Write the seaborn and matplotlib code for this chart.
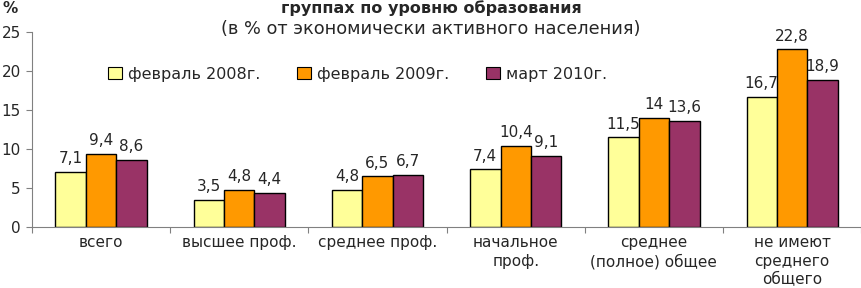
import matplotlib
matplotlib.use("Agg")
import matplotlib.pyplot as plt
import seaborn as sns
import pandas as pd
from matplotlib.patches import Patch

# данные
categories = ['всего', 'высшее проф.', 'среднее проф.', 'начальное\nпроф.',
              'среднее\n(полное) общее', 'не имеют\nсреднего\nобщего']
series = ['февраль 2008г.', 'февраль 2009г.', 'март 2010г.']
feb_2008 = [7.1, 3.5, 4.8, 7.4, 11.5, 16.7]
feb_2009 = [9.4, 4.8, 6.5, 10.4, 14, 22.8]
mar_2010 = [8.6, 4.4, 6.7, 9.1, 13.6, 18.9]
colors = ['#FFFF99', '#FF9900', '#993366']

rows = []
for s, vals in zip(series, [feb_2008, feb_2009, mar_2010]):
    for c, v in zip(categories, vals):
        rows.append({'cat': c, 'series': s, 'val': v})
df = pd.DataFrame(rows)

sns.set_style('white')
plt.rcParams['font.family'] = ['DejaVu Sans']

fig = plt.figure(figsize=(8.62, 2.88), dpi=100)
ax = fig.add_axes([0.0371, 0.212, 0.962, 0.677])

sns.barplot(data=df, x='cat', y='val', hue='series', order=categories,
            hue_order=series, palette=colors, width=0.66, gap=0,
            edgecolor='black', linewidth=1, saturation=1, ax=ax, legend=False)

# подписи значений
for cont in ax.containers:
    ax.bar_label(cont, labels=[f'{v:g}'.replace('.', ',') for v in cont.datavalues],
                 padding=4, fontsize=11)

ax.set_ylim(0, 25)
ax.set_xlim(-0.5, 5.5)
ax.set_yticks([0, 5, 10, 15, 20, 25])
ax.tick_params(axis='y', labelsize=11, length=4, width=0.8, color='#808080',
               left=True, pad=4)

# деления оси x по границам категорий
ax.set_xticks([i - 0.5 for i in range(len(categories) + 1)])
ax.set_xticklabels([])
ax.tick_params(axis='x', which='major', length=4, width=0.8, color='#808080', bottom=True)
ax.set_xticks(range(len(categories)), minor=True)
ax.set_xticklabels(categories, minor=True, fontsize=11, linespacing=1.3)
ax.tick_params(axis='x', which='minor', length=0, pad=6)

ax.set_xlabel('')
ax.set_ylabel('')
for side in ['top', 'right']:
    ax.spines[side].set_visible(False)
for side in ['left', 'bottom']:
    ax.spines[side].set_color('#808080')
    ax.spines[side].set_linewidth(0.8)

# легенда
handles = [Patch(facecolor=c, edgecolor='black', linewidth=0.8) for c in colors]
fig.legend(handles, series, loc='center', bbox_to_anchor=(0.415, 0.743), ncol=3,
           frameon=False, fontsize=11.5, handlelength=0.85, handleheight=0.85,
           handletextpad=0.4, columnspacing=2.3)

# заголовок
fig.text(0.5, 0.998, 'группах по уровню образования', ha='center', va='top',
         fontsize=11.5, fontweight='bold')
fig.text(0.5, 0.898, '(в % от экономически активного населения)', ha='center',
         va='center', fontsize=12.8)
fig.text(0.003, 0.972, '%', ha='left', va='center', fontsize=11, fontweight='bold')

fig.savefig('out.png', dpi=100)
